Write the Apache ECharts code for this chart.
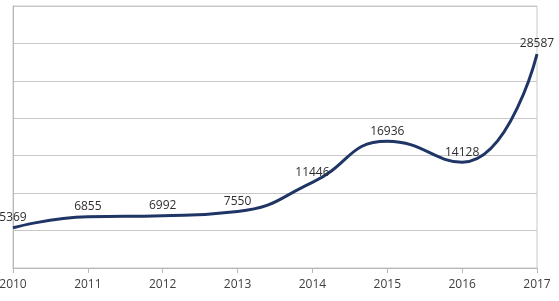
<!DOCTYPE html>
<html>
<head>
<meta charset="utf-8">
<script src="https://cdn.jsdelivr.net/npm/echarts@6/dist/echarts.min.js"></script>
<style>
  html, body { margin: 0; padding: 0; background: #fff; }
  #chart { width: 559px; height: 301px; }
</style>
</head>
<body>
<div id="chart"></div>
<script>
// 年份
const years = ['2010', '2011', '2012', '2013', '2014', '2015', '2016', '2017']
// 数值
const values = [5369, 6855, 6992, 7550, 11446, 16936, 14128, 28587]
// y 轴范围
const yMin = 0
const yMax = 35000
const yStep = 5000

const chart = echarts.init(document.getElementById('chart'))

chart.setOption({
  backgroundColor: '#fff',
  animation: false,
  textStyle: { fontFamily: 'Open Sans, Lato, sans-serif' },
  grid: {
    left: 13,
    right: 22,
    top: 6,
    bottom: 33,
    containLabel: false,
    outerBoundsMode: 'none',
    show: true,
    borderColor: '#c8c8c8',
    borderWidth: 1
  },
  xAxis: {
    type: 'category',
    boundaryGap: false,
    data: years,
    axisLine: { lineStyle: { color: '#b8b8b8', width: 1 } },
    axisTick: { show: true, length: 5, lineStyle: { color: '#b8b8b8' } },
    axisLabel: { color: '#404040', fontSize: 12, margin: 11 },
    splitLine: { show: false }
  },
  yAxis: {
    type: 'value',
    min: yMin,
    max: yMax,
    interval: yStep,
    axisLine: { show: true, lineStyle: { color: '#b8b8b8', width: 1 } },
    axisTick: { show: false },
    axisLabel: { show: false },
    splitLine: { lineStyle: { color: '#c8c8c8', width: 1 } }
  },
  series: [
    {
      type: 'line',
      data: values,
      smooth: 0.5,
      symbol: 'circle',
      symbolSize: 2,
      showSymbol: true,
      itemStyle: { color: 'rgba(0,0,0,0)', borderWidth: 0 },
      lineStyle: { color: '#1f3566', width: 3 },
      label: {
        show: true,
        position: 'top',
        distance: 3,
        color: '#2e2e2e',
        fontSize: 12
      }
    }
  ]
})
</script>
</body>
</html>
